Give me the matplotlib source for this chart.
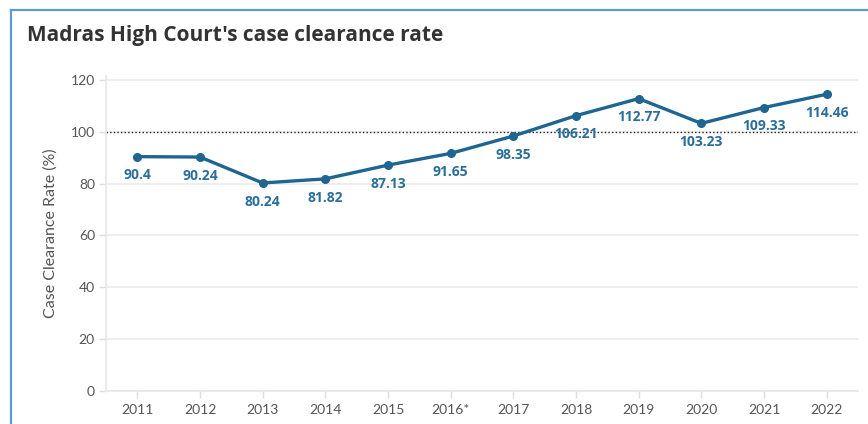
import matplotlib
matplotlib.use("Agg")
import matplotlib.pyplot as plt
from matplotlib.lines import Line2D

years = ["2011", "2012", "2013", "2014", "2015", "2016*", "2017", "2018", "2019", "2020", "2021", "2022"]
rates = [90.4, 90.24, 80.24, 81.82, 87.13, 91.65, 98.35, 106.21, 112.77, 103.23, 109.33, 114.46]
labels = ["90.4", "90.24", "80.24", "81.82", "87.13", "91.65", "98.35", "106.21", "112.77", "103.23", "109.33", "114.46"]
yticks = [0, 20, 40, 60, 80, 100, 120]

plt.rcParams['font.family'] = ['Lato', 'DejaVu Sans']

W, H = 868, 424
fig = plt.figure(figsize=(W / 100, H / 100), dpi=100)
fig.patch.set_facecolor("white")

ax = fig.add_axes([106 / W, 1 - 391 / H, (858 - 106) / W, (391 - 76) / H])
x = list(range(len(years)))
line_color = "#1f6592"
label_color = "#2a6f9b"

ax.plot(x, rates, color=line_color, lw=2.4, marker="o", ms=5.5, zorder=3)
ax.axhline(100, color="#222222", lw=1.0, ls=(0, (1, 1.6)), zorder=2)

for xi, v, t in zip(x, rates, labels):
    ax.annotate(t, (xi, v), xytext=(0, -8.5), textcoords="offset points",
                ha="center", va="top", fontsize=10, fontweight="bold",
                family=["Open Sans", "DejaVu Sans"],
                color=label_color, zorder=4)

ax.set_xlim(-0.5, len(years) - 0.5)
ax.set_ylim(0, 121.5)
ax.set_xticks(x)
ax.set_xticklabels(years)
ax.set_yticks(yticks)
ax.grid(axis="y", color="#ebebeb", lw=1.2, zorder=0)
for s in ["top", "right"]:
    ax.spines[s].set_visible(False)
ax.spines["left"].set_color("#e6e6e6")
ax.spines["left"].set_linewidth(1.2)
ax.spines["bottom"].set_color("#e6e6e6")
ax.spines["bottom"].set_linewidth(1.2)
ax.tick_params(axis="both", colors="#dddddd", labelcolor="#555555", labelsize=10, length=5, width=1)
ax.tick_params(axis="y", pad=3)
ax.tick_params(axis="x", pad=4)
ax.set_ylabel("Case Clearance Rate (%)", fontsize=11.5, color="#555555", labelpad=9)

fig.text(27 / W, 1 - 35 / H, "Madras High Court's case clearance rate", fontsize=15,
         fontweight="bold", family=["Open Sans", "DejaVu Sans"], color="#333333",
         ha="left", va="center")

# frame border
fig.add_artist(Line2D([10.5 / W, 10.5 / W], [0, 1 - 10 / H], color="#5b9bd5", lw=1.6, transform=fig.transFigure))
fig.add_artist(Line2D([10.5 / W, 1], [1 - 10 / H, 1 - 10 / H], color="#5b9bd5", lw=1.6, transform=fig.transFigure))

fig.savefig("out.png", dpi=100, facecolor="white")
